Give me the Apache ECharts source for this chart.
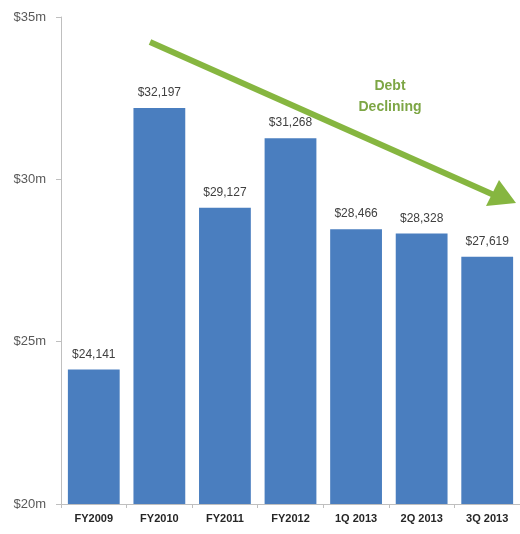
<!DOCTYPE html>
<html>
<head>
<meta charset="utf-8">
<script src="https://cdn.jsdelivr.net/npm/echarts@6/dist/echarts.min.js"></script>
<style>html,body{margin:0;padding:0;background:#fff}#chart{width:520px;height:534px}</style>
</head>
<body>
<div id="chart"></div>
<script>
// Debt by period, in thousands of dollars
const categories = ['FY2009', 'FY2010', 'FY2011', 'FY2012', '1Q 2013', '2Q 2013', '3Q 2013'];
const debtValues = [24141, 32197, 29127, 31268, 28466, 28328, 27619];
const yTicks = { min: 20000, max: 35000, step: 5000 };
const noteLines = ['Debt', 'Declining'];

const chart = echarts.init(document.getElementById('chart'));
const green = '#86B640';

chart.setOption({
  animation: false,
  backgroundColor: '#fff',
  grid: { left: 61, right: -1, top: 17, bottom: 30, containLabel: false },
  xAxis: {
    type: 'category',
    data: categories,
    axisLine: { lineStyle: { color: '#bfbfbf', width: 1 } },
    axisTick: { show: true, length: 4, lineStyle: { color: '#bfbfbf' } },
    axisLabel: { color: '#262626', fontWeight: 'bold', fontSize: 11, margin: 9, fontFamily: 'Liberation Sans, Arial, sans-serif' }
  },
  yAxis: {
    type: 'value',
    min: yTicks.min,
    max: yTicks.max,
    interval: yTicks.step,
    axisLine: { show: true, lineStyle: { color: '#bfbfbf', width: 1 } },
    axisTick: { show: true, length: 5, lineStyle: { color: '#bfbfbf' } },
    splitLine: { show: false },
    axisLabel: {
      color: '#595959', fontSize: 13, margin: 15,
      fontFamily: 'Liberation Sans, Arial, sans-serif',
      formatter: v => '$' + (v / 1000) + 'm'
    }
  },
  series: [{
    type: 'bar',
    data: debtValues,
    barCategoryGap: '21%',
    itemStyle: { color: '#4A7EBF' },
    label: {
      show: true,
      position: 'top',
      distance: 9,
      color: '#404040',
      fontSize: 12,
      fontFamily: 'Liberation Sans, Arial, sans-serif',
      formatter: p => '$' + p.value.toLocaleString('en-US')
    }
  }],
  graphic: [
    {
      type: 'line',
      shape: { x1: 150, y1: 42, x2: 494, y2: 195 },
      style: { stroke: green, lineWidth: 6 },
      z: 10
    },
    {
      type: 'polygon',
      shape: { points: [[516, 203], [486, 206], [499, 180]] },
      style: { fill: green },
      z: 10
    },
    {
      type: 'text',
      x: 390, y: 76,
      style: {
        text: noteLines.join('\n'),
        fill: '#7DA645',
        font: 'bold 14px "Liberation Sans", Arial, sans-serif',
        align: 'center',
        verticalAlign: 'top',
        lineHeight: 21
      },
      z: 10
    }
  ]
});
</script>
</body>
</html>
